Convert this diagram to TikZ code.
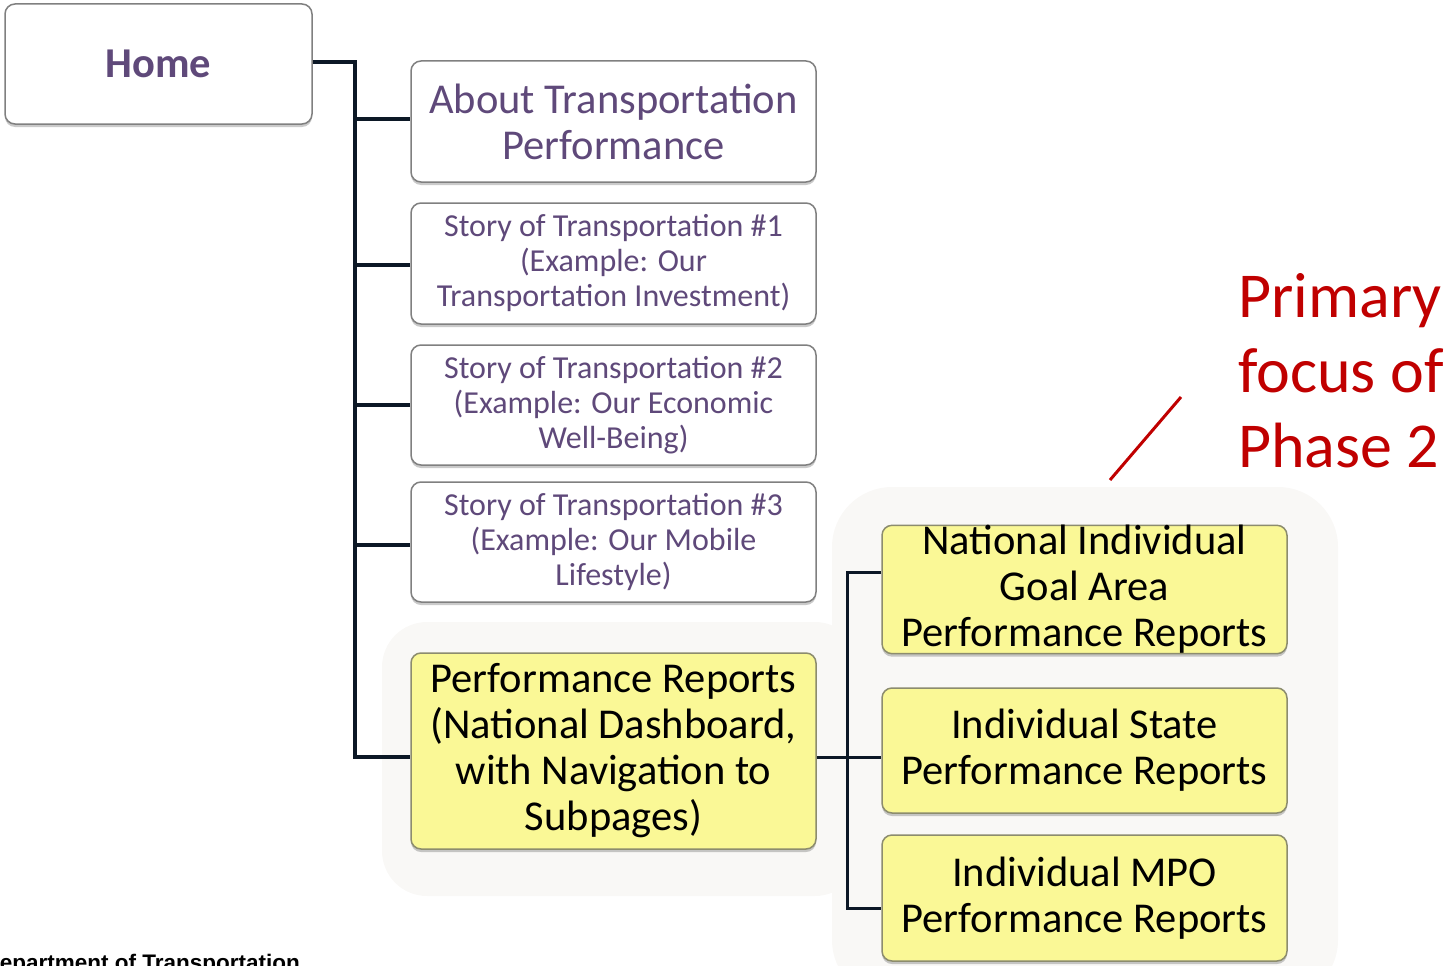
\documentclass[tikz,border=0pt]{standalone}
\usepackage{fontspec}
\setmainfont{Carlito}
\newfontfamily\arialfont{Liberation Sans}
\usetikzlibrary{shadows}
\definecolor{purp}{RGB}{95,73,122}
\definecolor{yel}{RGB}{250,248,150}
\definecolor{bord}{RGB}{128,128,128}
\definecolor{ybord}{RGB}{140,140,110}
\definecolor{conn}{RGB}{12,24,38}
\definecolor{redc}{RGB}{192,0,0}
\definecolor{bgreg}{RGB}{249,248,246}
\tikzset{
  box/.style={draw=bord, line width=1.5pt, rounded corners=10pt, fill=white,
    minimum width=405pt, align=center, inner sep=0pt,
    drop shadow={shadow xshift=0pt, shadow yshift=-3pt, opacity=0.35, fill=black!60}},
  wbox/.style={box, text=purp},
  ybox/.style={box, fill=yel, draw=ybord, text=black, font=\fontsize{42.5}{46}\selectfont},
  bigtxt/.style={font=\fontsize{42.5}{46}\selectfont},
  smalltxt/.style={font=\fontsize{32}{35}\selectfont},
  mainconn/.style={draw=conn, line width=4pt},
  subconn/.style={draw=conn, line width=3pt},
  region/.style={fill=bgreg, draw=none, rounded corners=45pt}
}
\begin{document}
\begin{tikzpicture}[x=1pt,y=-1pt]
\useasboundingbox (0,0) rectangle (1451,966);
% background regions
\fill[region] (382,622) rectangle (860,896);
\fill[region, rounded corners=60pt] (832,487) rectangle (1338,1000);
% nodes
\node[wbox, minimum width=307pt, minimum height=120pt, font=\bfseries\fontsize{42.5}{46}\selectfont] (home) at (158.5,64) {Home};
\node[wbox, bigtxt, minimum height=121pt] (about) at (613.5,121.5) {About Transportation\\Performance};
\node[wbox, smalltxt, minimum height=121pt] (s1) at (613.5,263.5) {Story of Transportation \#1\\(Example: Our\\Transportation Investment)};
\node[wbox, smalltxt, minimum height=120pt] (s2) at (613.5,405) {Story of Transportation \#2\\(Example: Our Economic\\Well-Being)};
\node[wbox, smalltxt, minimum height=120pt] (s3) at (613.5,542) {Story of Transportation \#3\\(Example: Our Mobile\\Lifestyle)};
\node[ybox, minimum height=196pt] (perf) at (613.5,751) {Performance Reports\\(National Dashboard,\\with Navigation to\\Subpages)};
\node[ybox, minimum height=127pt] (nat) at (1084.5,589.5) {National Individual\\Goal Area\\Performance Reports};
\node[ybox, minimum height=125pt] (state) at (1084.5,750.5) {Individual State\\Performance Reports};
\node[ybox, minimum height=126pt] (mpo) at (1084.5,898) {Individual MPO\\Performance Reports};
% left connectors
\coordinate (bustop) at (355,62);
\coordinate (bus) at (355,757);
\draw[mainconn] (home.east |- bustop) -- (bustop) -- (bus) -- (perf.west |- bus);
\draw[mainconn] (bus |- 0,119) -- (about.west |- 0,119);
\draw[mainconn] (bus |- 0,265) -- (s1.west |- 0,265);
\draw[mainconn] (bus |- 0,405) -- (s2.west |- 0,405);
\draw[mainconn] (bus |- 0,545) -- (s3.west |- 0,545);
% right connectors
\coordinate (rtop) at (847,572);
\coordinate (rbot) at (847,908);
\coordinate (rmid) at (847,757);
\draw[subconn] (nat.west |- rtop) -- (rtop) -- (rbot) -- (mpo.west |- rbot);
\draw[subconn] (perf.east |- rmid) -- (state.west |- rmid);
% annotation
\coordinate (ra) at (1181,397);
\coordinate (rb) at (1110,480);
\draw[redc, line width=3pt] (ra) -- (rb);
\node[text=redc, align=left, anchor=west, inner sep=0pt, font=\fontsize{64}{75}\selectfont] (note) at (1238,371) {Primary\\focus of\\Phase 2};
% footer fragment
\node[anchor=base east, inner sep=0pt, font=\arialfont\bfseries\fontsize{22.5}{24}\selectfont] (foot) at (300,970) {Department of Transportation};
\end{tikzpicture}
\end{document}
